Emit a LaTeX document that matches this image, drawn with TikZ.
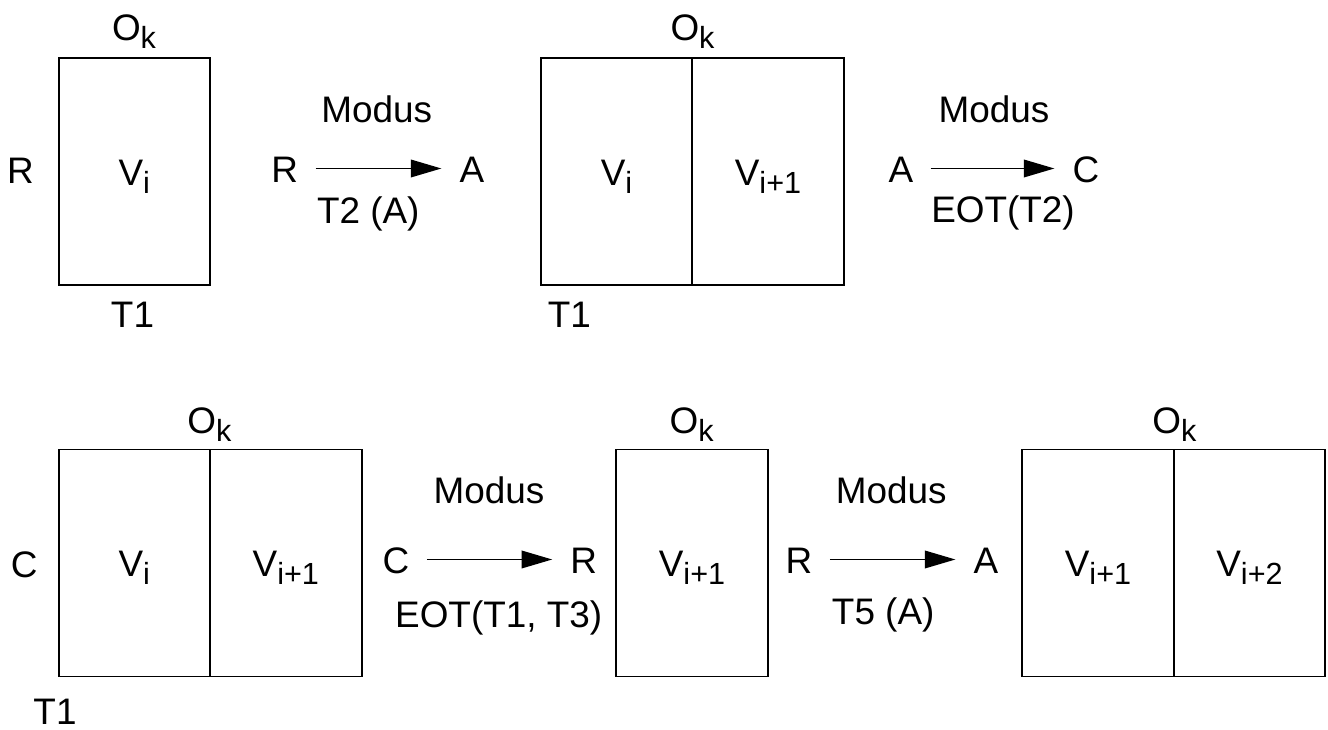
\documentclass[tikz,border=0pt]{standalone}
\usepackage{fontspec}
\setmainfont{Liberation Sans}
\usetikzlibrary{arrows.meta,positioning}
\newcommand{\low}[1]{\raisebox{-2.4pt}{\fontsize{8.7}{8.7}\selectfont #1}}

\begin{document}
\begin{tikzpicture}[font=\fontsize{10.5}{12.6}\selectfont,
        cell/.style={draw, line width=0.55pt, minimum width=1.515cm, minimum height=2.27cm,
            inner sep=0pt, outer sep=0pt, text height=7.7pt, text depth=0pt},
        lab/.style={inner sep=0pt, anchor=base, text height=7.7pt, text depth=0pt},
        mode/.style={-{Triangle[length=8.7pt,width=5pt]}, line width=0.5pt,
            shorten <=4.8pt, shorten >=5pt}]
        \useasboundingbox (0,0) rectangle (13.28,-7.29);

        % top row
        \node[cell] (b1) at (1.343,-1.715) {V\low{i}};
        \node[lab] (R0) at (0.205,-1.83) {R};
        \node[lab] (O1) at (1.34,-0.40) {O\low{k}};
        \node[lab] (T1a) at (1.325,-3.27) {T1};

        \node[lab] (R1) at (2.847,-1.82) {R};
        \node[lab] (A1) at (4.72,-1.82) {A};
        \node[lab] (m1) at (3.767,-1.22) {Modus};
        \node[lab] (e1) at (3.683,-2.23) {T2 (A)};

        \node[cell] (b2l) at (6.165,-1.715) {V\low{i}};
        \node[cell, right=0pt of b2l] (b2r) {V\low{i+1}};
        \node[lab] (O2) at (6.925,-0.40) {O\low{k}};
        \node[lab] (T1b) at (5.694,-3.27) {T1};

        \node[lab] (A2) at (9.008,-1.82) {A};
        \node[lab] (C2) at (10.86,-1.82) {C};
        \node[lab] (m2) at (9.94,-1.22) {Modus};
        \node[lab] (e2) at (10.03,-2.22) {EOT(T2)};

        % bottom row
        \node[cell] (b3l) at (1.343,-5.63) {V\low{i}};
        \node[cell, right=0pt of b3l] (b3r) {V\low{i+1}};
        \node[lab] (C0) at (0.242,-5.77) {C};
        \node[lab] (O3) at (2.093,-4.33) {O\low{k}};
        \node[lab] (T1c) at (0.55,-7.24) {T1};

        \node[lab] (C3) at (3.96,-5.73) {C};
        \node[lab] (R3) at (5.838,-5.73) {R};
        \node[lab] (m3) at (4.89,-5.03) {Modus};
        \node[lab] (e3) at (4.987,-6.27) {EOT(T1, T3)};

        \node[cell] (b4) at (6.92,-5.63) {V\low{i+1}};
        \node[lab] (O4) at (6.917,-4.33) {O\low{k}};

        \node[lab] (R4) at (7.99,-5.73) {R};
        \node[lab] (A4) at (9.86,-5.73) {A};
        \node[lab] (m4) at (8.913,-5.03) {Modus};
        \node[lab] (e4) at (8.832,-6.24) {T5 (A)};

        \node[cell] (b5l) at (10.98,-5.63) {V\low{i+1}};
        \node[cell, right=0pt of b5l] (b5r) {V\low{i+2}};
        \node[lab] (O5) at (11.743,-4.33) {O\low{k}};

        \draw[mode] (R1) -- (A1);
        \draw[mode] (A2) -- (C2);
        \draw[mode] (C3) -- (R3);
        \draw[mode] (R4) -- (A4);
    \end{tikzpicture}
\end{document}
